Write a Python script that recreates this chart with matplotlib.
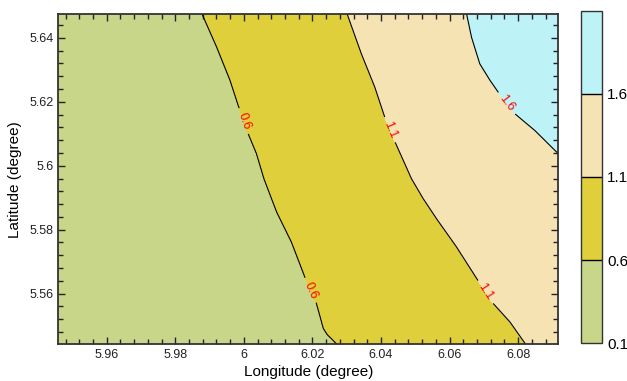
import numpy as np
import matplotlib
matplotlib.use("Agg")
import matplotlib.pyplot as plt
from matplotlib.ticker import MultipleLocator

plt.rcParams['font.family'] = ['Liberation Sans', 'DejaVu Sans']

# contour levels and fill colours
levels = [0.1, 0.6, 1.1, 1.6, 2.1]
fill_colors = ['#c8d68a', '#dfcf3b', '#f6e3b4', '#bdf2f6']

# contour lines (top to bottom)
lat_06 = [5.6473, 5.6371, 5.6267, 5.6188, 5.6100, 5.6038, 5.5959, 5.5855, 5.5761, 5.5652, 5.5569, 5.5491, 5.5472, 5.5441]
lon_06 = [5.9879, 5.9921, 5.9960, 5.9984, 6.0013, 6.0037, 6.0059, 6.0096, 6.0139, 6.0178, 6.0212, 6.0232, 6.0243, 6.0272]
lat_11 = [5.6473, 5.6350, 5.6246, 5.6152, 5.6074, 5.5959, 5.5897, 5.5834, 5.5746, 5.5647, 5.5569, 5.5511, 5.5441]
lon_11 = [6.0302, 6.0343, 6.0382, 6.0411, 6.0441, 6.0489, 6.0523, 6.0562, 6.0620, 6.0679, 6.0727, 6.0776, 6.0822]
lat_16 = [5.6473, 5.6402, 5.6319, 5.6267, 5.6230, 5.6163, 5.6110, 5.6043, 5.6039]
lon_16 = [6.0650, 6.0664, 6.0688, 6.0718, 6.0742, 6.0790, 6.0849, 6.0912, 6.0917]
# estimated values at the left / right edge of the map
edge_lat = [5.5441, 5.557, 5.579, 5.590, 5.6039, 5.615, 5.624, 5.636, 5.6475]
edge_right = [1.19, 1.28, 1.44, 1.55, 1.60, 1.74, 1.84, 1.93, 1.98]
edge_left = 0.2

lon_min, lon_max = 5.9459, 6.0917
lat_min, lat_max = 5.5441, 5.6475

# build the grid table from the lines
lon_grid = np.linspace(lon_min, lon_max, 400)
lat_grid = np.linspace(lat_min, lat_max, 300)
l06 = np.interp(lat_grid, lat_06[::-1], lon_06[::-1])
l11 = np.interp(lat_grid, lat_11[::-1], lon_11[::-1])
l16 = np.interp(lat_grid, lat_16[::-1], lon_16[::-1])
zr = np.interp(lat_grid, edge_lat, edge_right)

z = np.zeros((len(lat_grid), len(lon_grid)))
for i, la in enumerate(lat_grid):
    xs = [lon_min, l06[i], l11[i]]
    zs = [edge_left, 0.6, 1.1]
    if la > min(lat_16) and l16[i] < lon_max - 1e-6:
        xs.append(l16[i])
        zs.append(1.6)
    xs.append(lon_max)
    zs.append(zr[i])
    z[i] = np.interp(lon_grid, xs, zs)

fig = plt.figure(figsize=(6.27, 3.81), dpi=100)
ax = fig.add_axes([0.093, 0.0963, 0.7974, 0.867])
cax = fig.add_axes([0.9266, 0.099, 0.033, 0.873])

cf = ax.contourf(lon_grid, lat_grid, z, levels=levels, colors=fill_colors)
cl = ax.contour(lon_grid, lat_grid, z, levels=[0.6, 1.1, 1.6], colors='black', linewidths=0.8)
ax.clabel(cl, fmt='%.1f', colors='red', fontsize=9, inline=True,
          manual=[(6.0009, 5.6144), (6.0196, 5.5611), (6.0420, 5.611),
                  (6.0703, 5.5604), (6.0766, 5.6195)])

ax.set_xlim(lon_min, lon_max)
ax.set_ylim(lat_min, lat_max)
ax.xaxis.set_major_locator(MultipleLocator(0.02))
ax.xaxis.set_minor_locator(MultipleLocator(0.004))
ax.yaxis.set_major_locator(MultipleLocator(0.02))
ax.yaxis.set_minor_locator(MultipleLocator(0.004))
fmt = plt.FuncFormatter(lambda v, p: ('%.2f' % v).rstrip('0').rstrip('.'))
ax.xaxis.set_major_formatter(fmt)
ax.yaxis.set_major_formatter(fmt)
ax.tick_params(which='both', direction='in', top=True, right=True, labelsize=9, colors='#222222')
ax.tick_params(which='major', length=5, width=1)
ax.tick_params(which='minor', length=3.5, width=1)
for s in ax.spines.values():
    s.set_linewidth(1.3)
    s.set_color('#333333')

ax.set_xlabel('Longitude (degree)', fontsize=11, labelpad=3)
ax.set_ylabel('Latitude (degree)', fontsize=11, labelpad=5)

cb = fig.colorbar(cf, cax=cax, drawedges=True)
cb.set_ticks([0.1, 0.6, 1.1, 1.6])
cb.set_ticklabels(['0.1', '0.6', '1.1', '1.6'])
cb.ax.tick_params(length=0, labelsize=11, pad=4)
cb.outline.set_linewidth(1.0)
cb.outline.set_edgecolor('#333333')
cb.dividers.set_color('black')
cb.dividers.set_linewidth(1.0)

fig.savefig('out.png', dpi=100)
